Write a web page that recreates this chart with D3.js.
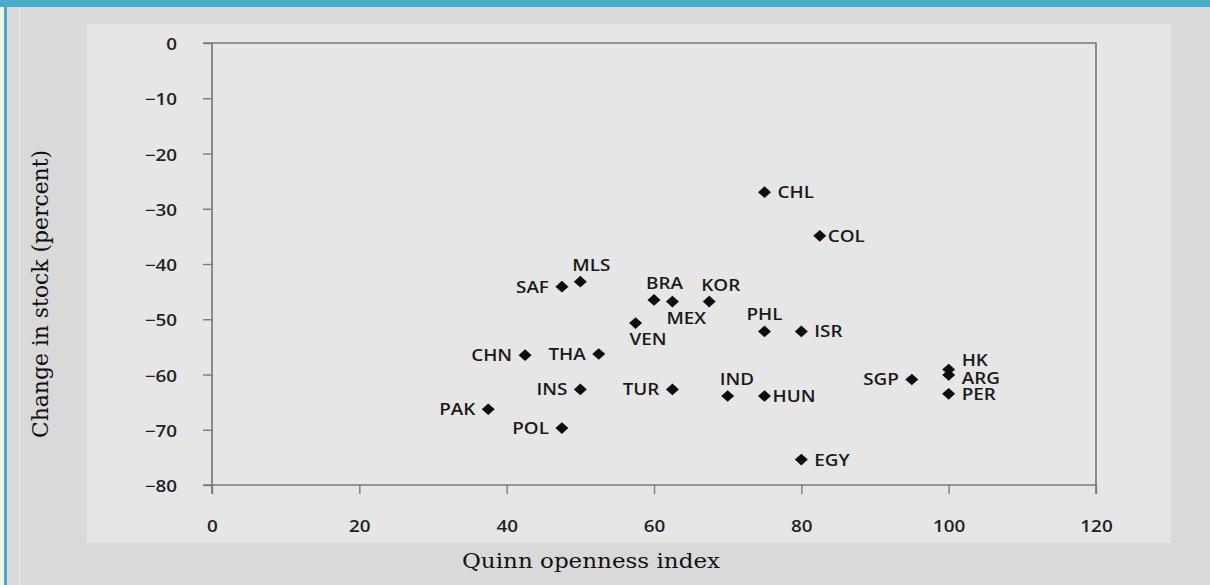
<!DOCTYPE html>
<html>
<head>
<meta charset="utf-8">
<script src="https://cdn.jsdelivr.net/npm/d3@7/dist/d3.min.js"></script>
<style>
  html, body { margin: 0; padding: 0; background: #d9d9d9; }
  svg { display: block; }
</style>
</head>
<body>
<svg id="chart" width="1210" height="585"></svg>
<script>
// ---- data ----
const countries = ["CHL","COL","MLS","SAF","BRA","MEX","KOR","VEN","PHL","ISR","CHN","THA","INS","TUR","IND","HUN","PAK","POL","EGY","SGP","HK","ARG","PER"];
const openness  = [75, 82.5, 50, 47.5, 60, 62.5, 67.5, 57.5, 75, 80, 42.5, 52.5, 50, 62.5, 70, 75, 37.5, 47.5, 80, 95, 100, 100, 100];
const stockChange = [-27, -34.9, -43.2, -44.1, -46.5, -46.8, -46.8, -50.7, -52.2, -52.2, -56.5, -56.3, -62.7, -62.7, -63.9, -63.9, -66.3, -69.7, -75.4, -60.9, -59.1, -60.1, -63.5];
// label placement codes (r = right, rc = right close, l = left, a = above, ac = above centred, b = below, ru/rd = right up/down)
const labelPlacement = ["r","rc","a","l","a","b","a","b","ac","r","l","l","l","l","a","rc","l","l","r","l","ru","rd","r"];
const xTicks = [0, 20, 40, 60, 80, 100, 120];
const yTicks = [0, -10, -20, -30, -40, -50, -60, -70, -80];
const xTitle = "Quinn openness index";
const yTitle = "Change in stock (percent)";

// ---- layout ----
const svg = d3.select("#chart");
const W = 1210, H = 585;
const plot = { left: 212, right: 1096, top: 43, bottom: 485 };
const SX = 1.18; // horizontal stretch of the original figure

svg.append("rect").attr("x",0).attr("y",0).attr("width",W).attr("height",H).attr("fill","#d9d9d9");
svg.append("rect").attr("x",0).attr("y",0).attr("width",W).attr("height",7).attr("fill","#4aacc6");
svg.append("rect").attr("x",4).attr("y",0).attr("width",3).attr("height",H).attr("fill","#4aacc6");
svg.append("rect").attr("x",0).attr("y",7).attr("width",4).attr("height",H-7).attr("fill","#f2f2f2");
svg.append("rect").attr("x",19).attr("y",7).attr("width",1).attr("height",H-7).attr("fill","#e9e9e9");
svg.append("rect").attr("x",87).attr("y",24).attr("width",1171-87).attr("height",543-24).attr("fill","#e6e6e6");

const x = d3.scaleLinear().domain([0,120]).range([plot.left, plot.right]);
const y = d3.scaleLinear().domain([-80,0]).range([plot.bottom, plot.top]);

const lineColor = "#7a7a7a";
const fontSans = "'Open Sans', 'Noto Sans', sans-serif";

// y axis (left)
const yAxis = svg.append("g").attr("transform",`translate(${plot.left},0)`)
  .call(d3.axisLeft(y).tickValues(yTicks).tickSize(9).tickPadding(0).tickFormat(d3.format("d")));
yAxis.select(".domain").attr("stroke",lineColor).attr("stroke-width",1.7)
  .attr("d", `M0,${plot.top}V${plot.bottom+9}`);
yAxis.selectAll(".tick line").attr("stroke",lineColor).attr("stroke-width",1.4);
yAxis.selectAll(".tick text").remove();
yAxis.selectAll(".tick").append("text")
  .attr("transform", `translate(-35,6.5) scale(${SX},1)`)
  .attr("text-anchor","end")
  .attr("fill","#222")
  .style("font-family",fontSans).style("font-size","16px").style("font-weight","600")
  .text(d => d3.format("d")(d));

// x axis (bottom)
const xAxis = svg.append("g").attr("transform",`translate(0,${plot.bottom})`)
  .call(d3.axisBottom(x).tickValues(xTicks).tickSize(9).tickFormat(d3.format("d")));
xAxis.select(".domain").attr("stroke",lineColor).attr("stroke-width",1.7)
  .attr("d", `M${plot.left-9},0H${plot.right}`);
xAxis.selectAll(".tick line").attr("stroke",lineColor).attr("stroke-width",1.4);
xAxis.selectAll(".tick text").remove();
xAxis.selectAll(".tick").append("text")
  .attr("transform", `translate(0,47) scale(${SX},1)`)
  .attr("text-anchor","middle")
  .attr("fill","#222")
  .style("font-family",fontSans).style("font-size","16px").style("font-weight","600")
  .text(d => d3.format("d")(d));

// frame top/right
svg.append("path")
  .attr("d", `M${plot.left-9},${plot.top}H${plot.right}V${plot.bottom+9}`)
  .attr("fill","none").attr("stroke",lineColor).attr("stroke-width",1.7);

// diamonds
const wideDiamond = {
  draw(ctx, size) {
    const hw = Math.sqrt(size) * 0.56, hh = Math.sqrt(size) * 0.5;
    ctx.moveTo(0,-hh); ctx.lineTo(hw,0); ctx.lineTo(0,hh); ctx.lineTo(-hw,0); ctx.closePath();
  }
};
const sym = d3.symbol().type(wideDiamond).size(135);
const pts = countries.map((c,i) => ({c, xv: openness[i], yv: stockChange[i], p: labelPlacement[i]}));

svg.append("g").selectAll("path").data(pts).join("path")
  .attr("transform", d => `translate(${x(d.xv)},${y(d.yv)})`)
  .attr("d", sym).attr("fill","#0d0d0d");

const place = {
  r:  {dx: 13, dy: 6, a: "start"},
  rc: {dx: 8,  dy: 6, a: "start"},
  ru: {dx: 13, dy: -4, a: "start"},
  rd: {dx: 13, dy: 9, a: "start"},
  l:  {dx: -13, dy: 6, a: "end"},
  a:  {dx: -8, dy: -11, a: "start"},
  ac: {dx: 0, dy: -11, a: "middle"},
  b:  {dx: -6, dy: 22, a: "start"}
};
svg.append("g").selectAll("text").data(pts).join("text")
  .attr("transform", d => `translate(${x(d.xv)+place[d.p].dx},${y(d.yv)+place[d.p].dy}) scale(${SX},1)`)
  .attr("text-anchor", d => place[d.p].a)
  .attr("fill","#1a1a1a")
  .style("font-family",fontSans).style("font-size","16px").style("font-weight","600")
  .text(d => d.c);

// axis titles
const fontSerif = "'DejaVu Serif', 'Liberation Serif', serif";
svg.append("text")
  .attr("x", 591).attr("y", 568)
  .attr("text-anchor","middle")
  .attr("textLength", 258).attr("lengthAdjust","spacingAndGlyphs")
  .attr("fill","#111")
  .style("font-family",fontSerif).style("font-size","20px")
  .text(xTitle);

svg.append("text")
  .attr("transform", `translate(48,294) rotate(-90) scale(1,${SX})`)
  .attr("text-anchor","middle")
  .attr("textLength", 288).attr("lengthAdjust","spacingAndGlyphs")
  .attr("fill","#111")
  .style("font-family",fontSerif).style("font-size","19px")
  .text(yTitle);
</script>
</body>
</html>
